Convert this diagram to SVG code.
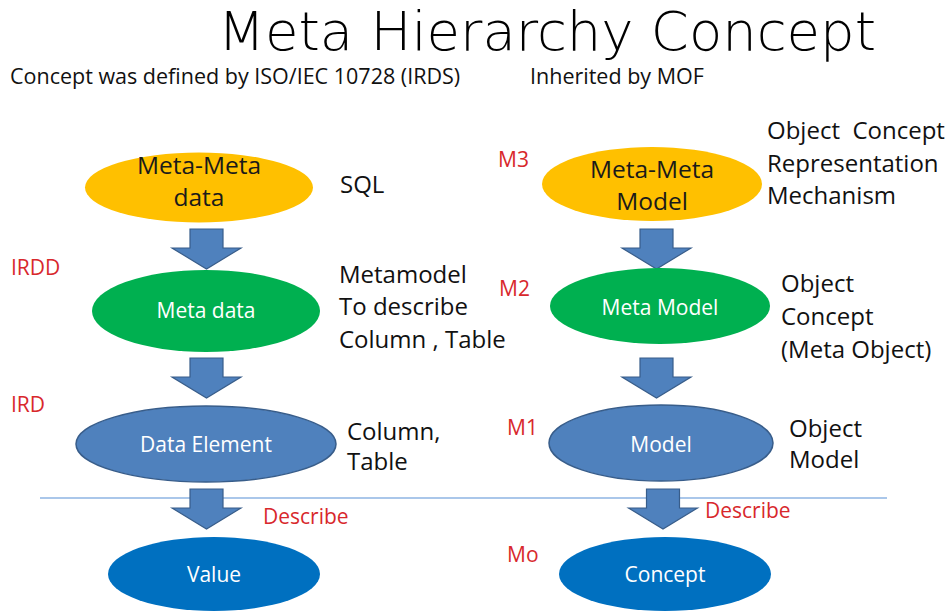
<svg xmlns="http://www.w3.org/2000/svg" width="949" height="613" viewBox="0 0 949 613">
  <style>
    text { font-family: "Open Sans", "Noto Sans", sans-serif; }
    .title { font-family: "DejaVu Sans", "Liberation Sans", sans-serif; font-size: 54px; font-weight: 200; fill: #000; }
    .sub { font-size: 21.5px; fill: #111; }
    .note { font-size: 24px; fill: #111; }
    .lvl { font-size: 21px; fill: #D8282C; }
    .in-dark { font-size: 24.5px; fill: #1a1a1a; text-anchor: middle; }
    .in-light { font-size: 21px; fill: #fff; text-anchor: middle; }
    .yellow { fill: #FFC000; }
    .green { fill: #00B050; }
    .steel { fill: #4F81BD; stroke: #385D8A; stroke-width: 1.5; }
    .blue { fill: #0070C0; }
    .arrow { fill: #4F81BD; stroke: #385D8A; stroke-width: 1.2; }
  </style>
  <defs>
    <!-- block arrow pointing down, origin at the tip -->
    <path id="down" d="M -16.5 -40 H 16.5 V -21 H 34.5 L 0 0 L -34.5 -21 H -16.5 Z"/>
  </defs>

  <rect width="949" height="613" fill="#fff"/>

  <!-- headings -->
  <text class="title" x="218" y="50" textLength="658" lengthAdjust="spacingAndGlyphs">Meta Hierarchy Concept</text>
  <text class="sub" x="10" y="84">Concept was defined by ISO/IEC 10728 (IRDS)</text>
  <text class="sub" x="530" y="84">Inherited by MOF</text>

  <!-- separator -->
  <line x1="40" y1="498" x2="887" y2="498" stroke="#8EB4E3" stroke-width="1.5"/>

  <!-- connectors -->
  <g id="connectors" class="arrow">
    <use href="#down" x="206.5" y="269"/>
    <use href="#down" x="206.5" y="398"/>
    <use href="#down" x="206.5" y="529"/>
    <use href="#down" x="656.5" y="269"/>
    <use href="#down" x="656.5" y="398"/>
    <use href="#down" x="663" y="529"/>
  </g>

  <!-- IRDS column -->
  <g id="meta-meta-data">
    <ellipse class="yellow" cx="199" cy="187.5" rx="114" ry="35"/>
    <text class="in-dark" x="199" y="174">Meta-Meta</text>
    <text class="in-dark" x="199" y="206">data</text>
  </g>
  <g id="meta-data">
    <ellipse class="green" cx="206" cy="311" rx="114" ry="41"/>
    <text class="in-light" x="206" y="318">Meta data</text>
  </g>
  <g id="data-element">
    <ellipse class="steel" cx="206" cy="444" rx="130" ry="38"/>
    <text class="in-light" x="206" y="452">Data Element</text>
  </g>
  <g id="value">
    <ellipse class="blue" cx="214" cy="574" rx="106" ry="37"/>
    <text class="in-light" x="214" y="582">Value</text>
  </g>

  <!-- MOF column -->
  <g id="meta-meta-model">
    <ellipse class="yellow" cx="652" cy="184" rx="110" ry="37"/>
    <text class="in-dark" x="652" y="178">Meta-Meta</text>
    <text class="in-dark" x="652" y="210">Model</text>
  </g>
  <g id="meta-model">
    <ellipse class="green" cx="660" cy="306" rx="110" ry="38"/>
    <text class="in-light" x="660" y="315">Meta Model</text>
  </g>
  <g id="model">
    <ellipse class="steel" cx="661" cy="443" rx="112" ry="38"/>
    <text class="in-light" x="661" y="452">Model</text>
  </g>
  <g id="concept">
    <ellipse class="blue" cx="665" cy="574" rx="106" ry="37"/>
    <text class="in-light" x="665" y="582">Concept</text>
  </g>

  <!-- level labels -->
  <text class="lvl" x="11" y="275">IRDD</text>
  <text class="lvl" x="11" y="412">IRD</text>
  <text class="lvl" x="498" y="167">M3</text>
  <text class="lvl" x="499" y="296">M2</text>
  <text class="lvl" x="507" y="435">M1</text>
  <text class="lvl" x="507" y="562">Mo</text>
  <text class="lvl" x="263" y="524">Describe</text>
  <text class="lvl" x="705" y="518">Describe</text>

  <!-- side notes -->
  <text class="note" x="340" y="193">SQL</text>
  <text class="note" x="339" y="283">Metamodel</text>
  <text class="note" x="339" y="315">To describe</text>
  <text class="note" x="339" y="348">Column , Table</text>
  <text class="note" x="347" y="440">Column,</text>
  <text class="note" x="347" y="470">Table</text>

  <text class="note" x="767" y="139" xml:space="preserve">Object  Concept</text>
  <text class="note" x="767" y="172">Representation</text>
  <text class="note" x="767" y="204">Mechanism</text>
  <text class="note" x="781" y="292">Object</text>
  <text class="note" x="781" y="325">Concept</text>
  <text class="note" x="781" y="358">(Meta Object)</text>
  <text class="note" x="789" y="437">Object</text>
  <text class="note" x="789" y="468">Model</text>
</svg>
